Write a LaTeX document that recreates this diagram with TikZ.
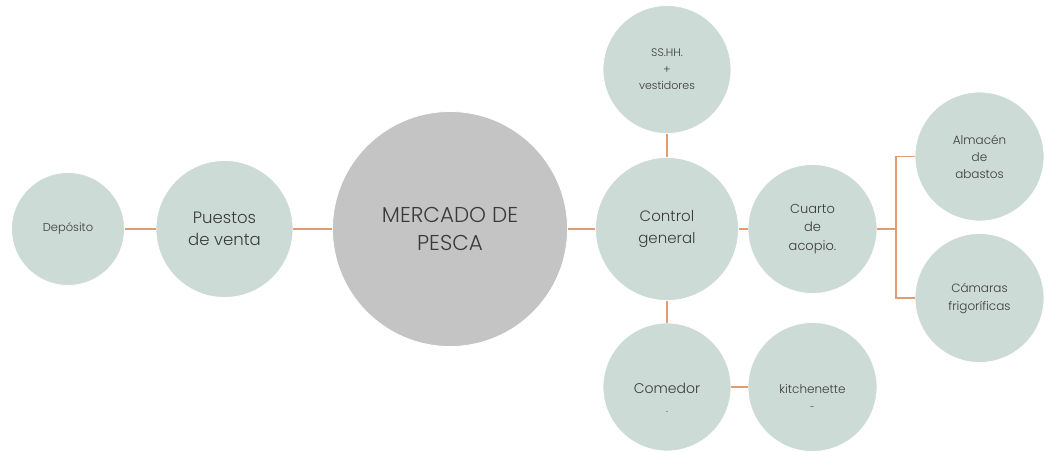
\documentclass[tikz,border=0pt]{standalone}
\usepackage{fontspec}
\setmainfont{Poppins}[UprightFont=* Light]
\definecolor{sage}{HTML}{CDDBD6}
\definecolor{midgray}{HTML}{C4C4C4}
\definecolor{link}{HTML}{E29C72}
\definecolor{ink}{HTML}{3A3A3A}
\tikzset{
  bubble/.style={circle, fill=sage, draw=white, line width=0.8pt, inner sep=0pt, text=ink, align=center},
  txt/.style={text=ink, align=center, inner sep=0pt},
  link/.style={draw=link, line width=1.8pt}
}
\begin{document}
\begin{tikzpicture}[x=1pt,y=-1pt]
\useasboundingbox (0,0) rectangle (1045,451);
\node[bubble, minimum size=113pt, font=\fontsize{11.5}{13}\selectfont] (dep) at (68,229) {Depósito};
\node[bubble, minimum size=137pt, font=\fontsize{16.5}{22}\selectfont] (pue) at (224.5,229) {Puestos\\de venta};
\node[bubble, fill=midgray, minimum size=235pt, font=\fontsize{21.5}{28}\selectfont] (mer) at (450,229) {MERCADO DE\\PESCA};
\node[bubble, minimum size=143pt, font=\fontsize{15}{22}\selectfont] (con) at (667,229) {Control\\general};
\node[bubble, minimum size=129pt, font=\fontsize{13}{18.5}\selectfont] (cua) at (812.5,229) {Cuarto\\de\\acopio.};
\node[bubble, minimum size=128pt, font=\fontsize{11}{16.5}\selectfont] (ss) at (667,69.5) {SS.HH.\\+\\vestidores};
\node[bubble, minimum size=129pt, font=\fontsize{12}{17}\selectfont] (alm) at (979.5,156.5) {Almacén\\de\\abastos};
\node[bubble, minimum size=129pt, font=\fontsize{12}{18}\selectfont] (cam) at (979.5,298) {Cámaras\\frigoríficas};
\node[bubble, minimum size=128pt] (com) at (667,387) {};
\node[bubble, minimum size=129pt] (kit) at (812.5,387) {};
\node[txt, font=\fontsize{14}{19}\selectfont, anchor=base] (comt) at (667,393) {Comedor};
\node[txt, font=\fontsize{10}{12}\selectfont, anchor=base] (comd) at (667,412) {.};
\node[txt, font=\fontsize{12}{16}\selectfont, anchor=base] (kitt) at (812.5,393) {kitchenette};
\node[txt, font=\fontsize{9}{12}\selectfont, anchor=base] (kitd) at (812.5,410) {-};
\coordinate (j) at (896,229);
\draw[link] (dep.east) -- (pue.west);
\draw[link] (pue.east) -- (mer.west);
\draw[link] (mer.east) -- (con.west);
\draw[link] (con.east) -- (cua.west);
\draw[link] (ss.south) -- (con.north);
\draw[link] (con.south) -- (com.north);
\draw[link] (com.east) -- (kit.west);
\draw[link] (cua.east) -- (j);
\draw[link] (j) |- (alm.west);
\draw[link] (j) |- (cam.west);
\end{tikzpicture}
\end{document}
